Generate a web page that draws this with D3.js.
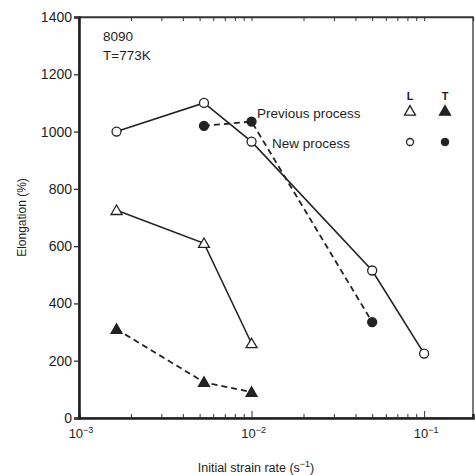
<!DOCTYPE html>
<html>
<head>
<meta charset="utf-8">
<script src="https://cdn.jsdelivr.net/npm/d3@7"></script>
<style>
  body { margin: 0; background: #fff; }
  text { font-family: "Liberation Sans", Arial, sans-serif; fill: #1e1e1e; }
</style>
</head>
<body>
<div id="chart"></div>
<script>
// strain rates (s^-1) and elongation (%)
const rateL = [1.65e-3, 5.3e-3, 1e-2, 5e-2, 1e-1];
const newL = [1000, 1100, 965, 515, 225];
const rateNewT = [5.3e-3, 1e-2, 5e-2];
const newT = [1020, 1035, 335];
const ratePrev = [1.65e-3, 5.3e-3, 1e-2];
const prevL = [725, 610, 260];
const prevT = [310, 125, 90];
const yTicks = [0, 200, 400, 600, 800, 1000, 1200, 1400];
const xTicks = [1e-3, 1e-2, 1e-1];
const xTickExp = ["−3", "−2", "−1"];

const W = 475, H = 475;
const m = { left: 79, top: 17, right: 2, bottom: 57 };

const svg = d3.select("#chart").append("svg")
  .attr("width", W).attr("height", H);

const x = d3.scaleLog().domain([1e-3, 0.192]).range([m.left, W - m.right]);
const y = d3.scaleLinear().domain([0, 1400]).range([H - m.bottom, m.top]);

/* ---------- frame & axes ---------- */
svg.append("rect")
  .attr("x", m.left).attr("y", m.top)
  .attr("width", W - m.right - m.left).attr("height", H - m.bottom - m.top)
  .attr("fill", "none").attr("stroke", "#333").attr("stroke-width", 1.3);

const minor = [];
for (let e = -3; e <= -1; e++) {
  for (let k = 1; k <= 9; k++) {
    const v = k * Math.pow(10, e);
    if (v <= 0.192) minor.push(v);
  }
}

// bottom axis, ticks inward
const xb = svg.append("g").attr("transform", `translate(0,${H - m.bottom})`)
  .call(d3.axisBottom(x).tickValues(minor).tickSize(-4).tickFormat(""));
xb.select(".domain").attr("stroke", "#222").attr("stroke-width", 2.6);
xb.selectAll(".tick line").attr("stroke", "#333")
  .attr("y2", (d) => (xTicks.includes(d) ? -7 : -4));

const xl = svg.append("g").selectAll("text").data(xTicks).join("text")
  .attr("x", (d) => x(d) + 2).attr("y", H - m.bottom + 20)
  .attr("text-anchor", "middle").attr("font-size", 13);
xl.append("tspan").text("10");
xl.append("tspan").attr("font-size", 9).attr("dy", -5)
  .text((d, i) => xTickExp[i]);

// top axis, ticks inward
const xt = svg.append("g").attr("transform", `translate(0,${m.top})`)
  .call(d3.axisTop(x).tickValues(minor).tickSize(-4).tickFormat(""));
xt.select(".domain").attr("stroke", "#333").attr("stroke-width", 1.3);
xt.selectAll(".tick line").attr("stroke", "#333");

// left axis
const yl = svg.append("g").attr("transform", `translate(${m.left},0)`)
  .call(d3.axisLeft(y).tickValues(yTicks).tickSize(5).tickPadding(2).tickFormat(d3.format("d")));
yl.select(".domain").attr("stroke", "#222").attr("stroke-width", 2.6);
yl.selectAll(".tick line").attr("stroke", "#333").attr("stroke-width", 1.3);
yl.selectAll(".tick text").attr("font-size", 14).attr("fill", "#1e1e1e")
  .style("font-family", "'Liberation Sans', Arial, sans-serif");

svg.append("text")
  .attr("transform", `translate(26,${(m.top + H - m.bottom) / 2}) rotate(-90)`)
  .attr("text-anchor", "middle").attr("font-size", 12)
  .text("Elongation (%)");

const xlab = svg.append("text")
  .attr("x", 256).attr("y", 472)
  .attr("text-anchor", "middle").attr("font-size", 12.5);
xlab.append("tspan").text("Initial strain rate (s");
xlab.append("tspan").attr("font-size", 9).attr("dy", -5).text("−1");
xlab.append("tspan").attr("dy", 5).text(")");

svg.append("text").attr("x", 103).attr("y", 41).attr("font-size", 13.5).text("8090");
svg.append("text").attr("x", 103).attr("y", 60).attr("font-size", 13.5).text("T=773K");

/* ---------- series ---------- */
const line = d3.line().x((d) => x(d[0])).y((d) => y(d[1]));
const tri = d3.symbol().type(d3.symbolTriangle).size(52);

function series(rates, vals, dashed, marker, filled) {
  const pts = rates.map((r, i) => [r, vals[i]]);
  svg.append("path").datum(pts).attr("d", line)
    .attr("fill", "none").attr("stroke", "#222")
    .attr("stroke-width", dashed ? 1.8 : 1.6)
    .attr("stroke-dasharray", dashed ? "6,4" : null);
  const g = svg.append("g");
  if (marker === "circle") {
    g.selectAll("circle").data(pts).join("circle")
      .attr("cx", (d) => x(d[0])).attr("cy", (d) => y(d[1])).attr("r", 4.5)
      .attr("fill", filled ? "#222" : "#fff").attr("stroke", "#222").attr("stroke-width", 1.3);
  } else {
    g.selectAll("path").data(pts).join("path")
      .attr("d", tri).attr("transform", (d) => `translate(${x(d[0])},${y(d[1]) + 1})`)
      .attr("fill", filled ? "#222" : "#fff").attr("stroke", "#222").attr("stroke-width", 1.3);
  }
}

series(rateL, newL, false, "circle", false);
series(rateNewT, newT, true, "circle", true);
series(ratePrev, prevL, false, "tri", false);
series(ratePrev, prevT, true, "tri", true);

/* ---------- legend ---------- */
const lg = svg.append("g");
lg.append("text").attr("x", 410).attr("y", 100).attr("text-anchor", "middle")
  .attr("font-size", 11).attr("font-weight", "bold").text("L");
lg.append("text").attr("x", 445).attr("y", 100).attr("text-anchor", "middle")
  .attr("font-size", 11).attr("font-weight", "bold").text("T");
lg.append("text").attr("x", 257).attr("y", 118).attr("font-size", 13.5).text("Previous process");
lg.append("text").attr("x", 272).attr("y", 148).attr("font-size", 13.5).text("New process");
lg.append("path").attr("d", tri).attr("transform", "translate(410,112)")
  .attr("fill", "#fff").attr("stroke", "#222").attr("stroke-width", 1.3);
lg.append("path").attr("d", tri).attr("transform", "translate(445,112)")
  .attr("fill", "#222").attr("stroke", "#222").attr("stroke-width", 1.3);
lg.append("circle").attr("cx", 410).attr("cy", 142).attr("r", 3.5)
  .attr("fill", "#fff").attr("stroke", "#222").attr("stroke-width", 1.3);
lg.append("circle").attr("cx", 445).attr("cy", 142).attr("r", 3.8)
  .attr("fill", "#222").attr("stroke", "#222");
</script>
</body>
</html>
